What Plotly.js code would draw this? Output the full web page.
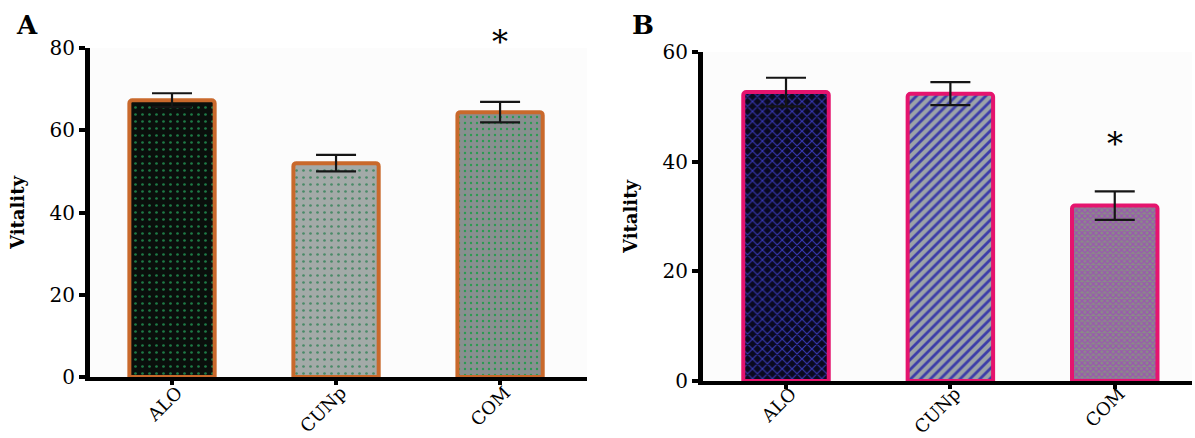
<!DOCTYPE html>
<html>
<head>
<meta charset="utf-8">
<script src="https://cdn.plot.ly/plotly-3.0.1.min.js"></script>
<style>html,body{margin:0;padding:0;background:#fff;}#chart{width:1195px;height:438px;}</style>
</head>
<body>
<div id="chart"></div>
<script>
// ---- data ----
const categories = ["ALO", "CUNp", "COM"];
const vitalityA = [67.3, 52.0, 64.4];
const errorA = [1.7, 2.0, 2.5];
const vitalityB = [52.7, 52.4, 32.0];
const errorB = [2.6, 2.1, 2.6];
const ticksA = [0, 20, 40, 60, 80];
const ticksB = [0, 20, 40, 60];

// ---- styles (per bar) ----
const serif = "DejaVu Serif";
const styleA = [
  {bg: "#0a0f0c", fg: "#1d7a45", shape: ".", size: 7, solidity: 0.12},
  {bg: "#a3aaa8", fg: "#4a8a68", shape: ".", size: 7, solidity: 0.12},
  {bg: "#889090", fg: "#2a9a50", shape: ".", size: 6, solidity: 0.12}
];
const styleB = [
  {bg: "#0a0a20", fg: "#3838b4", shape: "x", size: 7, solidity: 0.3},
  {bg: "#9ca3a8", fg: "#3c3ca8", shape: "/", size: 7, solidity: 0.4},
  {bg: "#8a8a88", fg: "#9a56b0", shape: "x", size: 4, solidity: 0.5}
];

function makeTraces(vals, errs, styles, xa, ya, lineColor) {
  return categories.map((c, i) => ({
    type: "bar", x: [c], y: [vals[i]], xaxis: xa, yaxis: ya,
    width: 0.52,
    marker: {
      color: styles[i].bg,
      line: {color: lineColor, width: 4},
      cornerradius: 3,
      pattern: {shape: styles[i].shape, fgcolor: styles[i].fg, fgopacity: 1,
                size: styles[i].size, solidity: styles[i].solidity, fillmode: "overlay"}
    },
    error_y: {type: "data", array: [errs[i]], visible: true, color: "#151515", thickness: 2.2, width: 20},
    hoverinfo: "x+y", showlegend: false
  }));
}

const traces = makeTraces(vitalityA, errorA, styleA, "x", "y", "#c9692c")
  .concat(makeTraces(vitalityB, errorB, styleB, "x2", "y2", "#e5146e"));

const xCommon = {
  showline: true, linecolor: "#000", linewidth: 4,
  ticks: "outside", ticklen: 4, tickwidth: 4, tickcolor: "#000",
  tickangle: -45, tickfont: {family: serif, size: 18, color: "#000"},
  ticklabelshift: 5,
  showgrid: false, zeroline: false, fixedrange: true
};
const yCommon = {
  showline: true, linecolor: "#000", linewidth: 5,
  ticks: "outside", ticklen: 6, tickwidth: 4, tickcolor: "#000",
  tickfont: {family: serif, size: 20, color: "#000"},
  showgrid: false, zeroline: false, fixedrange: true
};

const layout = {
  width: 1195, height: 438,
  margin: {l: 0, r: 0, t: 0, b: 0},
  paper_bgcolor: "#ffffff",
  plot_bgcolor: "#fcfcfc",
  barmode: "overlay",
  xaxis: Object.assign({}, xCommon, {domain: [90/1195, 587/1195], range: [-0.5, 2.53], anchor: "y", ticklabelstandoff: -10}),
  yaxis: Object.assign({}, yCommon, {domain: [61/438, 390/438], range: [0, 80], tickvals: ticksA, anchor: "x",
    title: {text: "<b>Vitality</b>", font: {family: serif, size: 18, color: "#000"}, standoff: 22}}),
  xaxis2: Object.assign({}, xCommon, {domain: [703/1195, 1192/1195], range: [-0.505, 2.47], anchor: "y2", ticklabelstandoff: -13}),
  yaxis2: Object.assign({}, yCommon, {domain: [57/438, 386/438], range: [0, 60], tickvals: ticksB, anchor: "x2",
    title: {text: "<b>Vitality</b>", font: {family: serif, size: 18, color: "#000"}, standoff: 22}}),
  annotations: [
    {text: "<b>A</b>", xref: "paper", yref: "paper", x: 27/1195, y: 1 - 25/438, showarrow: false,
     font: {family: serif, size: 26, color: "#000"}, xanchor: "center", yanchor: "middle"},
    {text: "<b>B</b>", xref: "paper", yref: "paper", x: 643/1195, y: 1 - 25/438, showarrow: false,
     font: {family: serif, size: 26, color: "#000"}, xanchor: "center", yanchor: "middle"},
    {text: "*", xref: "x", yref: "paper", x: "COM", y: 1 - 42/438, showarrow: false,
     font: {family: serif, size: 32, color: "#000"}, xanchor: "center", yanchor: "middle"},
    {text: "*", xref: "x2", yref: "paper", x: "COM", y: 1 - 144/438, showarrow: false,
     font: {family: serif, size: 32, color: "#000"}, xanchor: "center", yanchor: "middle"}
  ]
};

Plotly.newPlot("chart", traces, layout, {displayModeBar: false, staticPlot: true});
</script>
</body>
</html>
